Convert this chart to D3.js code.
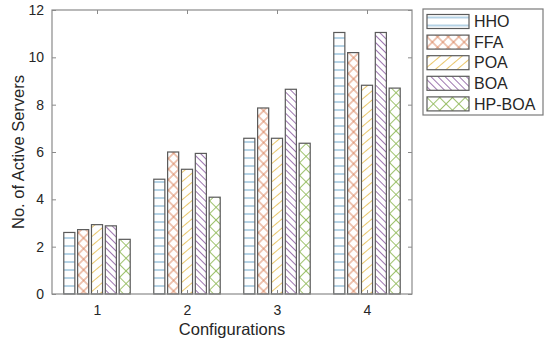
<!DOCTYPE html>
<html>
<head>
<meta charset="utf-8">
<script src="https://cdn.jsdelivr.net/npm/d3@7"></script>
<style>
  body { margin: 0; background: #fff; }
  text { font-family: "Liberation Sans", Arial, sans-serif; fill: #262626; }
</style>
</head>
<body>
<div id="chart"></div>
<script>
// data
let configs = ["1", "2", "3", "4"];
let methods = ["HHO", "FFA", "POA", "BOA", "HP-BOA"];
let hho = [2.6, 4.85, 6.58, 11.05];
let ffa = [2.72, 6.0, 7.86, 10.2];
let poa = [2.93, 5.27, 6.58, 8.82];
let boa = [2.88, 5.94, 8.65, 11.05];
let hpboa = [2.31, 4.09, 6.37, 8.7];
let yTicks = [0, 2, 4, 6, 8, 10, 12];

let series = [hho, ffa, poa, boa, hpboa];
let colors = ["#5a9cc5", "#d9825a", "#e6c05a", "#9266a6", "#93bb5e"];

let svgWidth = 550;
let svgHeight = 344;
let mar = { top: 10, bottom: 50, right: 138, left: 52 };
let wdt = svgWidth - mar.left - mar.right;
let hgt = svgHeight - mar.top - mar.bottom;

let svg = d3.select("#chart")
    .append("svg")
    .attr("width", svgWidth)
    .attr("height", svgHeight);

// hatch patterns
let defs = svg.append("defs");
function hatch(id, size, angle, color, cross) {
    let p = defs.append("pattern")
        .attr("id", id)
        .attr("patternUnits", "userSpaceOnUse")
        .attr("width", size)
        .attr("height", size)
        .attr("patternTransform", `rotate(${angle})`);
    p.append("line")
        .attr("x1", 0).attr("y1", size / 2)
        .attr("x2", size).attr("y2", size / 2)
        .attr("stroke", color).attr("stroke-width", 0.9);
    if (cross) {
        p.append("line")
            .attr("x1", size / 2).attr("y1", 0)
            .attr("x2", size / 2).attr("y2", size)
            .attr("stroke", color).attr("stroke-width", 0.9);
    }
}
hatch("p0", 8, 0, colors[0], false);
hatch("p1", 7.5, 45, colors[1], true);
hatch("p2", 7, -40, colors[2], false);
hatch("p3", 5, 45, colors[3], false);
hatch("p4", 9, 45, colors[4], true);

let chart = svg.append("g")
    .attr("transform", `translate(${mar.left}, ${mar.top})`);

let x0 = d3.scaleBand()
    .domain(configs)
    .range([0, wdt])
    .paddingInner(0.231)
    .paddingOuter(0.1155);
let x1 = d3.scaleBand()
    .domain(methods)
    .range([0, x0.bandwidth()])
    .paddingInner(0.2)
    .paddingOuter(0.1);
let y = d3.scaleLinear().domain([0, 12]).range([hgt, 0]);

let axisColor = "#8a8a8a";

// bars
configs.forEach(function (c, i) {
    let g = chart.append("g")
        .attr("transform", `translate(${x0(c)}, 0)`);
    g.selectAll("rect")
        .data(methods)
        .enter()
        .append("rect")
        .attr("x", m => x1(m))
        .attr("y", (m, j) => y(series[j][i]))
        .attr("width", x1.bandwidth())
        .attr("height", (m, j) => hgt - y(series[j][i]))
        .attr("fill", (m, j) => `url(#p${j})`)
        .attr("stroke", "#5a5a5a")
        .attr("stroke-width", 1.2);
});

// axes
let xCenter = d3.scalePoint().domain(configs).range([x0.step() / 2, wdt - x0.step() / 2]);
let xAxis = chart.append("g")
    .attr("transform", `translate(0, ${hgt})`)
    .call(d3.axisBottom(xCenter).tickSizeInner(-4).tickSizeOuter(0).tickPadding(11));
let xTop = chart.append("g")
    .call(d3.axisTop(xCenter).tickSizeInner(-4).tickSizeOuter(0).tickFormat(""));
let yAxis = chart.append("g")
    .call(d3.axisLeft(y).tickValues(yTicks).tickSizeInner(-4).tickSizeOuter(0).tickPadding(8));
let yRight = chart.append("g")
    .attr("transform", `translate(${wdt}, 0)`)
    .call(d3.axisRight(y).tickValues(yTicks).tickSizeInner(-4).tickSizeOuter(0).tickFormat(""));

[xAxis, xTop, yAxis, yRight].forEach(function (a) {
    a.select(".domain").remove();
    a.selectAll("line").attr("stroke", axisColor);
    a.selectAll("text")
        .style("font-size", "14px")
        .style("font-family", "'Liberation Sans', Arial, sans-serif")
        .attr("fill", "#262626");
});

// axes box
chart.append("rect")
    .attr("width", wdt)
    .attr("height", hgt)
    .attr("fill", "none")
    .attr("stroke", axisColor)
    .attr("stroke-width", 1.2);

chart.append("text")
    .attr("x", wdt / 2)
    .attr("y", hgt + 41)
    .attr("text-anchor", "middle")
    .style("font-size", "16.5px")
    .text("Configurations");

chart.append("text")
    .attr("transform", `rotate(-90)`)
    .attr("x", -hgt / 2)
    .attr("y", -mar.left + 24)
    .attr("text-anchor", "middle")
    .style("font-size", "16.5px")
    .text("No. of Active Servers");

// legend
let legend = svg.append("g")
    .attr("transform", "translate(423, 9)");
legend.append("rect")
    .attr("width", 120)
    .attr("height", 106)
    .attr("fill", "#fff")
    .attr("stroke", "#7a7a7a")
    .attr("stroke-width", 1.2);
let items = legend.selectAll("g.item")
    .data(methods)
    .enter()
    .append("g")
    .attr("class", "item")
    .attr("transform", (d, i) => `translate(4, ${12.5 + i * 20.6})`);
items.append("rect")
    .attr("x", 0)
    .attr("y", -7)
    .attr("width", 42)
    .attr("height", 14)
    .attr("fill", (d, i) => `url(#p${i})`)
    .attr("stroke", "#5a5a5a")
    .attr("stroke-width", 1.2);
items.append("text")
    .attr("x", 47)
    .attr("y", 0)
    .attr("dy", "0.36em")
    .style("font-size", "16px")
    .text(d => d);
</script>
</body>
</html>
